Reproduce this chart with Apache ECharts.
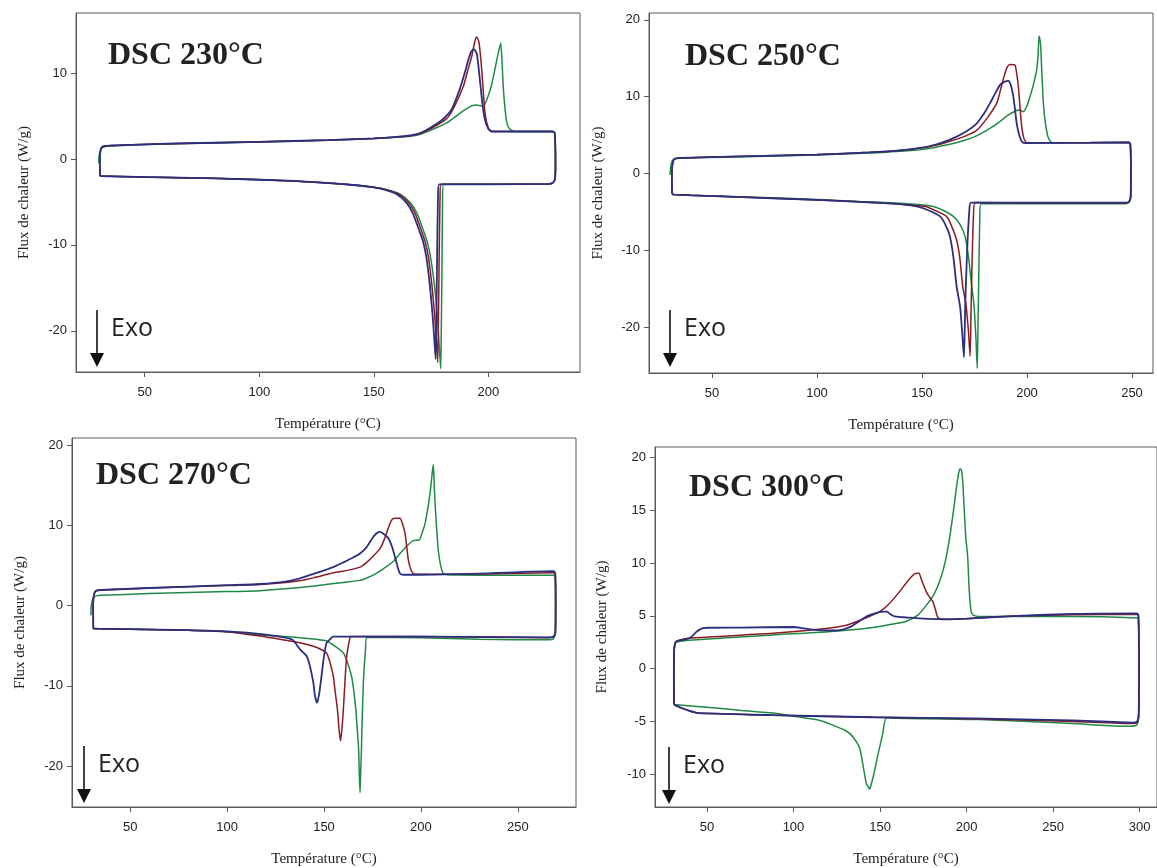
<!DOCTYPE html>
<html>
<head>
<meta charset="utf-8">
<script src="https://cdn.jsdelivr.net/npm/echarts@6/dist/echarts.min.js"></script>
<style>html,body{margin:0;padding:0;background:#fff}#c{width:1157px;height:868px}</style>
</head>
<body>
<div id="c"></div>
<script>
// ---------- DATA ----------
const panelTitles = ['DSC 230°C', 'DSC 250°C', 'DSC 270°C', 'DSC 300°C'];
const xTicks1 = [50, 100, 150, 200];
const xTicks2 = [50, 100, 150, 200, 250];
const xTicks3 = [50, 100, 150, 200, 250];
const xTicks4 = [50, 100, 150, 200, 250, 300];
const yTicks1 = [-20, -10, 0, 10];
const yTicks2 = [-20, -10, 0, 10, 20];
const yTicks3 = [-20, -10, 0, 10, 20];
const yTicks4 = [-10, -5, 0, 5, 10, 15, 20];

// Panel 1 : DSC 230°C  [temperature °C, heat flow W/g]
const p1_blue = [[30.5,-2.0],[30.4,-0.5],[30.6,0.8],[31.2,1.35],[32.5,1.52],[35,1.56],[60,1.78],[100,2.0],[130,2.2],[150,2.4],[160,2.58],[166,2.75],[170,3.0],[175,3.7],[180,4.6],[184,5.8],[187.6,8.2],[190,10.3],[191.2,11.5],[192.5,12.5],[193.7,12.8],[195,12.2],[196.3,9.2],[197.5,6.2],[198.5,4.6],[200,3.5],[201.5,3.2],[215,3.2],[228,3.2],[229,3.0],[229.3,-1.0],[229,-2.4],[228,-2.8],[226,-2.9],[200,-2.95],[178.5,-2.95],[178.0,-4.5],[177.6,-12],[177.3,-19],[177.0,-23.3],[176.4,-21],[175.6,-18],[174.5,-14.8],[173,-11.5],[171.5,-9.6],[170.2,-8.6],[167,-6.3],[164.3,-5.1],[160,-4.1],[155,-3.6],[150,-3.3],[140,-3.0],[115,-2.55],[80,-2.25],[50,-2.1],[35,-2.02],[31,-2.0],[30.5,-2.0]];
const p1_red = [[30.5,-2.0],[30.4,-0.5],[30.6,0.8],[31.2,1.35],[32.5,1.52],[35,1.56],[60,1.78],[100,2.0],[130,2.2],[150,2.4],[160,2.56],[166,2.72],[170,2.95],[175,3.55],[181.8,4.7],[185,6.0],[189,8.4],[191,10.3],[192.7,11.9],[194,13.6],[194.9,14.2],[195.9,13.6],[197.1,10.4],[198.5,5.4],[200,3.6],[201.5,3.2],[228,3.2],[229,3.0],[229.3,-1.0],[229,-2.4],[228,-2.8],[226,-2.9],[200,-2.95],[179.3,-2.95],[178.9,-4.5],[178.5,-12],[178.2,-19],[177.9,-23.7],[177.3,-21],[176.5,-18],[175.4,-14.8],[173.9,-11.5],[172.4,-9.6],[171.1,-8.6],[168,-6.3],[165.2,-5.1],[161,-4.1],[156,-3.6],[150,-3.3],[140,-3.0],[115,-2.55],[80,-2.25],[50,-2.1],[35,-2.02],[31,-2.0],[30.5,-2.0]];
const p1_green = [[29.9,-0.5],[30.1,0.4],[30.8,1.1],[32,1.4],[35,1.52],[60,1.75],[100,1.98],[130,2.18],[150,2.38],[160,2.52],[166,2.65],[170,2.85],[174.5,3.3],[181.8,4.2],[189,5.6],[192,6.1],[194.2,6.3],[196.5,6.2],[198,6.2],[199.3,6.9],[201,8.2],[202.2,9.6],[204.3,12.3],[205.4,13.5],[206.1,10.5],[206.6,8.0],[207.3,5.8],[208,4.3],[209,3.6],[210.5,3.3],[212,3.2],[228,3.2],[229,3.0],[229.3,-1.0],[229,-2.4],[228,-2.8],[226,-2.9],[200,-2.95],[180.4,-2.95],[180.0,-5],[179.7,-14],[179.4,-21],[179.2,-24.4],[178.6,-22],[177.8,-18.5],[176.6,-15],[175,-11.8],[173.5,-9.8],[172,-8.6],[169,-6.4],[166,-5.1],[161.5,-4.1],[156,-3.6],[150,-3.3],[140,-3.0],[115,-2.55],[80,-2.25],[50,-2.1],[35,-2.02],[31,-2.0],[30.5,-2.0]];

// Panel 2 : DSC 250°C
const p2_blue = [[31,-2.7],[30.9,-0.5],[31.1,1.0],[31.8,1.8],[33,1.97],[36,2.02],[60,2.2],[100,2.45],[125,2.75],[139.5,3.0],[150,3.35],[157,3.8],[163.3,4.4],[170,5.3],[176,6.5],[180,8.0],[182.4,9.15],[185,10.5],[187.1,11.5],[189,11.9],[191.1,12.05],[192.3,11.5],[193.5,10.0],[194.3,8.3],[195.1,6.5],[196.3,5.0],[197.5,4.15],[199,3.95],[230,4.0],[248.5,4.05],[249.2,3.8],[249.5,0],[249.3,-3.2],[248.5,-3.7],[247,-3.8],[200,-3.8],[173.3,-3.8],[172.5,-5],[171.5,-10],[170.6,-17],[170,-23.95],[169.2,-21],[168.2,-17.5],[166.5,-14.75],[165,-11],[163.3,-8.2],[161,-6.6],[158.6,-5.6],[153,-4.8],[147.5,-4.3],[139.5,-4.0],[120,-3.7],[100,-3.45],[70,-3.15],[40,-2.85],[32,-2.75],[31,-2.7]];
const p2_red = [[31,-2.7],[30.9,-0.5],[31.1,1.0],[31.8,1.8],[33,1.97],[36,2.02],[60,2.2],[100,2.45],[125,2.75],[139.5,3.0],[150,3.3],[157,3.7],[163.3,4.2],[170,4.8],[176,5.6],[181,7.2],[185.6,9.15],[187.5,11],[189.5,13.05],[190.7,13.9],[191.9,14.2],[194.3,14.1],[195.1,13.0],[195.9,11.3],[196.7,8.5],[197.5,6.1],[198.5,4.6],[200,4.0],[230,4.0],[248.5,4.05],[249.2,3.8],[249.5,0],[249.3,-3.2],[248.5,-3.7],[247,-3.85],[200,-3.85],[175.3,-3.8],[174.5,-5.5],[173.8,-12],[173.3,-19],[172.9,-23.8],[172.1,-20.5],[170.9,-17],[169.4,-14.75],[168,-11],[166.5,-8.7],[164,-6.8],[161.7,-5.6],[156,-4.8],[151.7,-4.3],[140,-4.0],[120,-3.7],[100,-3.45],[70,-3.15],[40,-2.85],[32,-2.75],[31,-2.7]];
const p2_green = [[30,-0.2],[30.3,0.8],[31,1.6],[32.5,1.9],[36,2.0],[60,2.15],[100,2.4],[125,2.65],[139.5,2.9],[150,3.1],[163.3,3.8],[170,4.3],[176,4.9],[182,5.8],[187.1,6.75],[191,7.6],[195.1,8.2],[196.5,8.25],[198.3,8.05],[199.8,8.7],[201.4,10.0],[203,11.5],[204.6,13.5],[205.3,15.5],[205.7,17.9],[206.1,17.5],[206.5,16.7],[207.1,13],[207.8,9.15],[208.8,6.5],[210.2,4.6],[212,4.0],[230,4.0],[248.5,4.0],[249.2,3.8],[249.5,0],[249.3,-3.3],[248.5,-3.8],[247,-3.95],[200,-3.95],[178,-3.95],[177.5,-6],[177,-14],[176.6,-21],[176.3,-25.4],[175.6,-21],[174.7,-17],[173.7,-14.75],[172.2,-11],[170.5,-8.2],[168,-6.6],[164.9,-5.6],[160,-4.8],[155.4,-4.3],[139.5,-3.9],[120,-3.65],[100,-3.4],[70,-3.1],[40,-2.85],[32,-2.75],[31,-2.7]];

// Panel 3 : DSC 270°C
const p3_blue = [[31,-2.85],[30.9,-0.5],[31.1,1.0],[31.8,1.7],[33,1.9],[35,1.95],[60,2.2],[100,2.55],[116.9,2.7],[130,3.0],[137.6,3.4],[145,4.0],[151.3,4.5],[154.8,4.8],[160,5.4],[165,6.0],[168.6,6.5],[172,7.3],[175.5,8.6],[177.5,9.1],[178.9,9.2],[181,8.9],[183.2,8.4],[185,7.4],[186.6,6.1],[188,4.8],[189.2,4.0],[191,3.85],[230,4.0],[268.5,4.3],[269.3,4.0],[269.5,0],[269.3,-3.5],[268,-3.9],[265,-3.95],[200,-3.85],[154.5,-3.85],[153.5,-4.1],[151.3,-4.65],[150,-6.3],[148.7,-8.8],[147.5,-11],[146.4,-12.1],[145.3,-11.2],[144.5,-9.6],[142.8,-7.6],[141.1,-6.3],[137.6,-5.45],[134,-4.3],[130,-4.0],[120,-3.6],[100,-3.2],[80,-3.05],[50,-2.92],[33,-2.86],[31,-2.85]];
const p3_red = [[31,-2.85],[30.9,-0.5],[31.1,1.0],[31.8,1.7],[33,1.9],[35,1.95],[60,2.2],[100,2.5],[116.9,2.65],[130,2.9],[137.6,3.1],[145,3.5],[155,4.1],[162,4.4],[168.6,4.8],[172,5.4],[175.5,6.2],[178.9,7.1],[181,8.2],[184,10.2],[185.3,10.8],[186.6,10.9],[189.2,10.9],[190.5,10.2],[191.8,9.0],[192.7,7.3],[193.5,5.7],[194.8,4.5],[196.1,4.0],[198,3.9],[230,3.95],[268.5,4.1],[269.3,3.9],[269.5,0],[269.3,-3.5],[268,-3.95],[265,-4.0],[200,-3.85],[164,-3.85],[163.2,-4.2],[161.7,-6.3],[160.8,-9.5],[160,-12.9],[159.2,-15.5],[158.5,-16.85],[157.8,-15.5],[156.9,-12.9],[155.8,-10.8],[154.8,-8.8],[153,-7.0],[151.3,-5.9],[148,-5.4],[144.5,-5.06],[137.6,-4.63],[130,-4.3],[120,-3.9],[100,-3.25],[80,-3.08],[50,-2.94],[33,-2.87],[31,-2.85]];
const p3_green = [[29.8,-1.2],[29.8,-0.4],[30.4,0.6],[31.5,1.1],[33,1.25],[35,1.3],[60,1.5],[100,1.75],[116.9,1.87],[137.6,2.25],[150,2.6],[160,2.9],[168.6,3.15],[172,3.45],[176,3.9],[180,4.5],[185.7,5.5],[189.2,6.5],[193,7.5],[196.1,8.1],[199.2,8.2],[200.5,9.0],[202.1,10.2],[203.8,12.5],[205,14.6],[205.8,16.5],[206.4,17.6],[206.8,15.5],[207.2,13.2],[208,10],[208.9,7.0],[210,5.2],[211.5,4.0],[214,3.85],[230,3.8],[268.5,3.8],[269.3,3.6],[269.5,0],[269.3,-3.6],[268,-4.2],[265,-4.25],[230,-4.2],[200,-4.0],[172.2,-3.95],[171.4,-5.5],[170.3,-9.6],[169.6,-15],[169.3,-18.1],[168.9,-21],[168.6,-23.3],[168.2,-21],[167.9,-18.1],[167.2,-15.5],[166.4,-12.9],[165.3,-10.5],[164.2,-8.8],[162,-7.0],[160,-5.9],[156,-5.1],[151.3,-4.4],[137.6,-4.0],[120,-3.7],[100,-3.25],[80,-3.08],[50,-2.94],[33,-2.87],[31,-2.85]];

// Panel 4 : DSC 300°C
const p4_blue = [[31,-3.4],[30.9,-1],[31,1.5],[31.6,2.4],[33,2.64],[37,2.75],[40.2,2.9],[44,3.5],[46.9,3.8],[50,3.88],[69,3.9],[99.8,3.95],[105,3.85],[111.3,3.7],[120,3.62],[126.7,3.65],[131,3.85],[134.4,4.1],[138,4.5],[142.1,4.95],[147,5.25],[151.7,5.4],[154,5.4],[156,5.15],[158.4,4.95],[165.2,4.85],[184.4,4.7],[200,4.75],[222.8,4.95],[261.2,5.2],[298.5,5.25],[299.3,5.0],[299.6,0],[299.4,-4.3],[298.5,-5.0],[295.8,-5.1],[261.2,-4.9],[203.6,-4.7],[145.9,-4.6],[88.2,-4.4],[45,-4.2],[40,-4.0],[35,-3.7],[31,-3.4]];
const p4_red = [[31,-3.4],[30.9,-1],[31,1.5],[31.6,2.4],[33,2.64],[40,2.9],[88.2,3.35],[119,3.8],[130,4.1],[136.3,4.45],[143,4.9],[149.8,5.4],[155,6.1],[161.3,7.3],[165,8.1],[169,8.85],[171,9.05],[172.5,9.05],[174,8.4],[176.7,7.3],[178.5,6.8],[180.5,6.35],[182,5.6],[183.4,4.85],[186,4.65],[196,4.7],[222,4.95],[261,5.1],[298.5,5.15],[299.3,4.9],[299.6,0],[299.4,-4.4],[298.5,-5.1],[296,-5.2],[261,-5.0],[200,-4.75],[145.9,-4.6],[88,-4.4],[45,-4.2],[40,-4.0],[35,-3.7],[31,-3.4]];
const p4_green = [[31,-3.4],[30.9,-1],[31,1.5],[31.6,2.35],[33,2.55],[40,2.7],[88.2,3.2],[120,3.5],[145.9,3.9],[160,4.3],[165.2,4.5],[172,5.1],[176.7,6.0],[181,7.0],[184.4,8.25],[187.5,10.0],[190.1,12.3],[192.3,14.8],[194,17.0],[195.5,18.6],[196.3,18.95],[197,18.8],[197.7,17.95],[198.5,15.5],[199.5,12.5],[200.6,10.7],[201.5,7.5],[202.6,5.4],[204,5.05],[207.4,4.95],[261,4.95],[298.7,4.8],[299.3,4.5],[299.6,0],[299.4,-4.5],[298.5,-5.3],[296,-5.45],[290,-5.45],[261.2,-5.2],[203.6,-4.8],[160,-4.7],[153.6,-4.65],[151.5,-6.2],[149,-8.0],[146.5,-9.9],[144.5,-11.2],[143.9,-11.4],[143.2,-11.2],[142.1,-10.9],[140,-9.0],[138.2,-7.5],[134,-6.4],[130.5,-5.9],[122,-5.3],[115.2,-4.9],[100,-4.5],[88.2,-4.2],[70,-3.95],[49.8,-3.65],[31,-3.4]];

// ---------- CHART ----------
const COL = {red:'#8b1a22', green:'#1f8a46', blue:'#2b2f7f'};
const AX = '#5a5a5a';
const grids = [
  {left:76, top:13, right:577, bottom:496},
  {left:649, top:13, right:4, bottom:495},
  {left:72, top:438, right:581, bottom:60},
  {left:655, top:447, right:-1, bottom:58}
];
const xRanges = [[20,240],[20,260],[20,280],[20,310]];
const yRanges = [[-24.8,17],[-26,20.9],[-25.1,20.9],[-13.1,21]];
const xT = [xTicks1,xTicks2,xTicks3,xTicks4];
const yT = [yTicks1,yTicks2,yTicks3,yTicks4];
const yNameGap = [44, 43, 44, 45];

const option = {
  animation:false,
  backgroundColor:'#fff',
  grid: grids.map(g => Object.assign({show:true, borderColor:AX, borderWidth:1, backgroundColor:'transparent'}, g)),
  xAxis: grids.map((g,i) => ({
    type:'value', gridIndex:i, min:xRanges[i][0], max:xRanges[i][1],
    name:'Température (°C)', nameLocation:'middle', nameGap:45,
    nameTextStyle:{fontFamily:'Liberation Serif', fontSize:15, color:'#222'},
    axisLine:{show:true, onZero:false, lineStyle:{color:AX, width:1}},
    axisTick:{show:true, length:5, lineStyle:{color:AX}, customValues:xT[i]},
    axisLabel:{fontFamily:'Liberation Sans', fontSize:13, color:'#222', margin:14, customValues:xT[i]},
    splitLine:{show:false}
  })),
  yAxis: grids.map((g,i) => ({
    type:'value', gridIndex:i, min:yRanges[i][0], max:yRanges[i][1],
    name:'Flux de chaleur (W/g)', nameLocation:'middle', nameGap:yNameGap[i], nameRotate:90,
    nameTextStyle:{fontFamily:'Liberation Serif', fontSize:15, color:'#222'},
    axisLine:{show:true, onZero:false, lineStyle:{color:AX, width:1}},
    axisTick:{show:true, length:5, lineStyle:{color:AX}, customValues:yT[i]},
    axisLabel:{fontFamily:'Liberation Sans', fontSize:13, color:'#222', margin:9, customValues:yT[i]},
    splitLine:{show:false}
  })),
  series: []
};
const panels = [
  {green:p1_green, red:p1_red, blue:p1_blue},
  {green:p2_green, red:p2_red, blue:p2_blue},
  {green:p3_green, red:p3_red, blue:p3_blue},
  {green:p4_green, red:p4_red, blue:p4_blue}
];
panels.forEach((p,i) => {
  ['green','red','blue'].forEach(k => {
    option.series.push({
      type:'line', xAxisIndex:i, yAxisIndex:i, data:p[k],
      showSymbol:false, smooth:0.2, clip:true,
      lineStyle:{color:COL[k], width: k==='blue'?1.8:1.5},
      itemStyle:{color:COL[k]}
    });
  });
});

// annotations (titles + Exo arrows)
const titlePos = [[108,57],[685,58],[96,477],[689,489]];
const exoPos = [[97,310,367],[670,310,367],[84,746,803],[669,747,804]];
const graphic = [];
titlePos.forEach((t,i) => {
  graphic.push({type:'text', left:t[0], top:t[1]-17, style:{text:panelTitles[i], font:'bold 32px "Liberation Serif"', fill:'#222'}});
});
exoPos.forEach(e => {
  graphic.push({type:'line', shape:{x1:e[0], y1:e[1], x2:e[0], y2:e[2]-12}, style:{stroke:'#111', lineWidth:1.6}});
  graphic.push({type:'polygon', shape:{points:[[e[0]-7,e[2]-14],[e[0]+7,e[2]-14],[e[0],e[2]]]}, style:{fill:'#111'}});
  graphic.push({type:'text', left:e[0]+14, top:(e[1]+e[2])/2-22, style:{text:'Exo', font:'25px "Open Sans"', fill:'#222'}});
});
option.graphic = graphic;

const chart = echarts.init(document.getElementById('c'), null, {renderer:'canvas'});
chart.setOption(option);
</script>
</body>
</html>
